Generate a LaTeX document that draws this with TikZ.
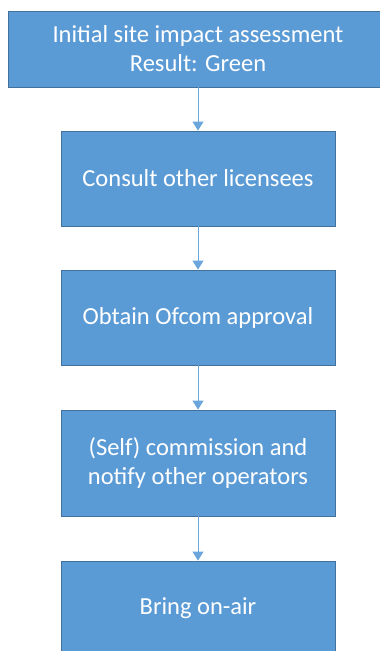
\documentclass[tikz,border=0pt]{standalone}
\usepackage{fontspec}
\setmainfont{Carlito}
\usetikzlibrary{arrows.meta}
\definecolor{boxfill}{HTML}{5B9BD5}
\definecolor{boxline}{HTML}{41719C}
\definecolor{arrowc}{HTML}{6AA6DC}
\begin{document}
\begin{tikzpicture}[x=1pt,y=-1pt,
  stepbox/.style={draw=boxline, line width=0.8pt, fill=boxfill, text=white,
    minimum width=274pt, align=center, inner sep=0pt,
    font=\fontsize{24.5}{29}\selectfont},
  flow/.style={draw=arrowc, line width=0.9pt, -{Triangle[width=11pt,length=9pt]}}]
\useasboundingbox (0,0) rectangle (380,651);
\clip (0,0) rectangle (380,651);
\node[stepbox, minimum width=380pt, minimum height=76pt] (a) at (198,49) {Initial site impact assessment\\Result: Green};
\node[stepbox, minimum height=95pt] (b) at (198,178.5) {Consult other licensees};
\node[stepbox, minimum height=95pt] (c) at (198,317.5) {Obtain Ofcom approval};
\node[stepbox, minimum height=106pt] (d) at (198,463) {(Self) commission and\\notify other operators};
\node[stepbox, minimum height=95pt] (e) at (198,608.5) {Bring on-air};
\draw[flow] (a) -- (b);
\draw[flow] (b) -- (c);
\draw[flow] (c) -- (d);
\draw[flow] (d) -- (e);
\end{tikzpicture}
\end{document}
